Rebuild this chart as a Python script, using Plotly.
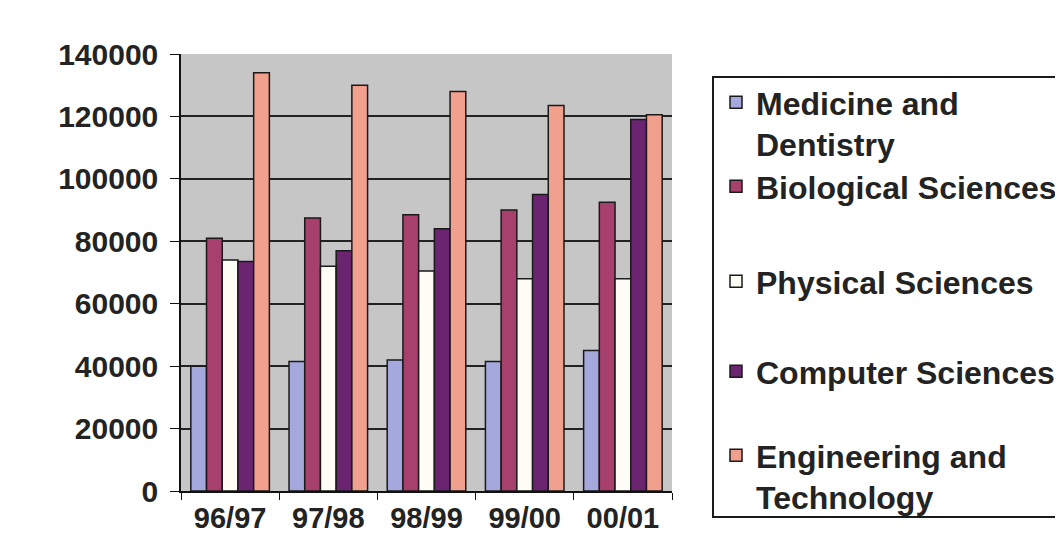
import plotly.graph_objects as go

years = ["96/97", "97/98", "98/99", "99/00", "00/01"]
series_names = ["Medicine and<br>Dentistry", "Biological Sciences", "Physical Sciences",
                "Computer Sciences", "Engineering and<br>Technology"]
medicine = [40000, 41500, 42000, 41500, 45000]
biological = [81000, 87500, 88500, 90000, 92500]
physical = [74000, 72000, 70500, 68000, 68000]
computer = [73500, 77000, 84000, 95000, 119000]
engineering = [134000, 130000, 128000, 123500, 120500]
colors = ["#A4A8DC", "#A8406E", "#FDFDF6", "#6A2470", "#F2A08E"]
y_ticks = [0, 20000, 40000, 60000, 80000, 100000, 120000, 140000]

# layout geometry (target screen pixels; page body adds an 8px offset)
OFF = 8
W, H = 1063 - OFF, 541 - OFF
L, R_EDGE, TOP, BOT = 181 - OFF, 672 - OFF, 54 - OFF, 491 - OFF
PW, PH = R_EDGE - L, BOT - TOP
def px(x):
    return (x - OFF - L) / PW
def py(y):
    return (BOT - (y - OFF)) / PH

legend_first_line_y = [103, 187, 282, 372, 456]
legend_names = ["legend", "legend2", "legend3", "legend4", "legend5"]

fig = go.Figure()
for name, vals, col, lg in zip(series_names, [medicine, biological, physical, computer, engineering],
                               colors, legend_names):
    fig.add_trace(go.Bar(x=years, y=vals, name=name, legend=lg,
                         marker=dict(color=col, line=dict(color="#1a1a1a", width=1.5))))

txt = "#232323"
leg_font = dict(family="Liberation Sans, Arial", size=32, color=txt, weight="bold")
layout_legends = {}
for lg, yc in zip(legend_names, legend_first_line_y):
    layout_legends[lg] = dict(x=px(716), y=py(yc - 28), xanchor="left", yanchor="top",
                              bgcolor="rgba(0,0,0,0)", borderwidth=0, font=leg_font,
                              valign="top", itemclick=False)

fig.update_layout(
    width=W, height=H,
    paper_bgcolor="white", plot_bgcolor="#C6C6C6",
    margin=dict(l=L, r=W - R_EDGE, t=TOP, b=H - BOT, autoexpand=False),
    barmode="group", bargap=0.2, bargroupgap=0.0,
    font=dict(family="Liberation Sans, Arial", size=30, color=txt),
    showlegend=True,
    shapes=[dict(type="rect", xref="paper", yref="paper",
                 x0=px(713), x1=px(1075), y0=py(517), y1=py(77),
                 line=dict(color="#1a1a1a", width=2), fillcolor="rgba(0,0,0,0)")],
    **layout_legends,
)
fig.update_yaxes(range=[0, 140000], tickvals=y_ticks, ticktext=[f"<b>{v}</b>" for v in y_ticks],
                 showgrid=True, gridcolor="#222222", gridwidth=1.8,
                 showline=True, linecolor="#111111", linewidth=1.5,
                 ticks="outside", ticklen=9, tickcolor="#111111", zeroline=False,
                 ticklabelstandoff=6, tickfont=dict(size=30))
fig.update_xaxes(tickvals=years, ticktext=[f"<b>{y}</b>" for y in years],
                 showline=True, linecolor="#111111", linewidth=1.5,
                 ticks="outside", ticklen=7, tickcolor="#111111", tickson="boundaries",
                 tickfont=dict(size=29))
fig.write_html("out.html")
